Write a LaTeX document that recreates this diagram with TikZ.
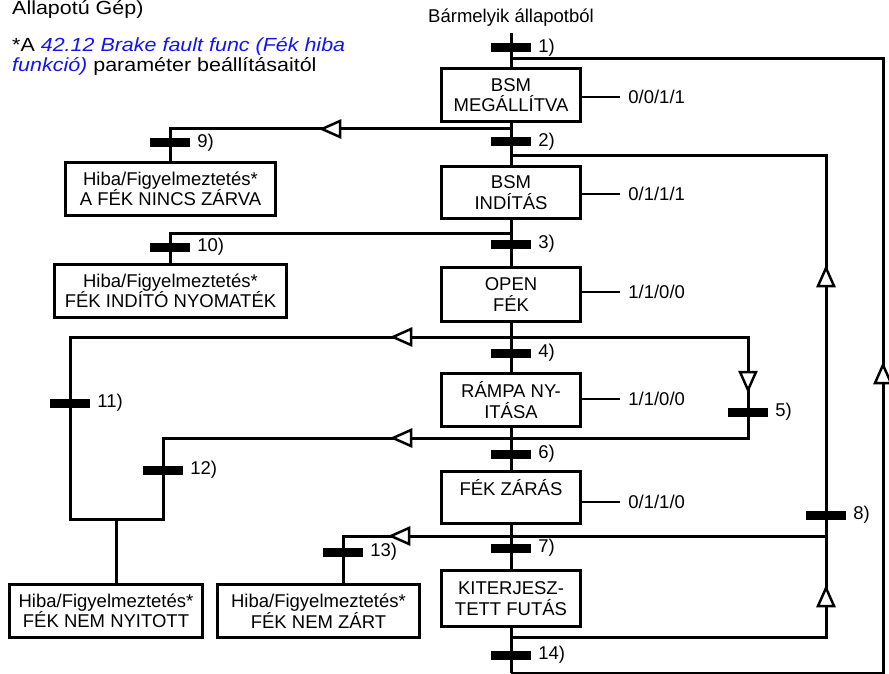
\documentclass[tikz,border=0pt]{standalone}
\usepackage{fontspec}
\setmainfont{Liberation Sans}
\newfontfamily\notefont[FakeStretch=1.13]{Liberation Sans}
\definecolor{linkblue}{RGB}{20,20,240}
\begin{document}
\begin{tikzpicture}[x=1pt,y=-1pt,
  every node/.style={font=\fontsize{18.5}{20.5}\selectfont},
  note/.style={anchor=base west,inner sep=0pt,font=\notefont\fontsize{19}{21}\selectfont},
  conn/.style={line width=3pt,line join=miter},
  lbl/.style={line width=2.5pt},
  box/.style={draw,line width=3.2pt,inner sep=0pt,align=center},
  bar/.style={fill=black,inner sep=0pt,minimum width=40pt,minimum height=9pt,
              label={[label distance=7pt,inner sep=0pt]east:#1}},
  openarr/.pic={\draw[line width=2.5pt,fill=white,line join=miter] (0,0) -- (18,-8) -- (18,8) -- cycle;}]
\useasboundingbox (0,0) rectangle (889,674);

% texts at top
\node[note] (t0) at (12,15) {Állapotú Gép)};
\node[note] (t1) at (12,52) {*A \textcolor{linkblue}{\itshape 42.12 Brake fault func (Fék hiba}};
\node[note] (t2) at (12,72) {\textcolor{linkblue}{\itshape funkció)} paraméter beállításaitól};
\node[anchor=base,inner sep=0pt] (any) at (511,23) {Bármelyik állapotból};

% state boxes
\node[box,minimum width=139pt,minimum height=53pt] (s1) at (511,95) {BSM\\MEGÁLLÍTVA};
\node[box,minimum width=139pt,minimum height=52pt] (s2) at (511,192.5) {BSM\\INDÍTÁS};
\node[box,minimum width=139pt,minimum height=54pt] (s3) at (511,294.5) {OPEN\\FÉK};
\node[box,minimum width=139pt,minimum height=53pt] (s4) at (511,400) {RÁMPA NY-\\ITÁSA};
\node[box,minimum width=139pt,minimum height=52pt] (s5) at (511,497.5) {FÉK ZÁRÁS\\\phantom{X}};
\node[box,minimum width=139pt,minimum height=56pt] (s6) at (511,598.5) {KITERJESZ-\\TETT FUTÁS};

\node[box,minimum width=210pt,minimum height=53pt] (e9) at (170.5,189) {Hiba/Figyelmeztetés*\\A FÉK NINCS ZÁRVA};
\node[box,minimum width=232pt,minimum height=53pt] (e10) at (170.5,291) {Hiba/Figyelmeztetés*\\FÉK INDÍTÓ NYOMATÉK};
\node[box,minimum width=193pt,minimum height=53pt] (e11) at (106,611) {Hiba/Figyelmeztetés*\\FÉK NEM NYITOTT};
\node[box,minimum width=202pt,minimum height=53pt] (e13) at (318.5,611) {Hiba/Figyelmeztetés*\\FÉK NEM ZÁRT};

% junction coordinates
\coordinate (top) at (511,33);
\coordinate (j1) at (511,59);
\coordinate (c1r) at (883,59);
\coordinate (c1b) at (883,673);
\coordinate (j14) at (511,673);
\coordinate (j9) at (511,129);
\coordinate (k9) at (170,129);
\coordinate (j2r) at (511,156);
\coordinate (c2r) at (826,156);
\coordinate (c8b) at (826,637);
\coordinate (j6b) at (511,637);
\coordinate (j10) at (511,233);
\coordinate (k10) at (170,233);
\coordinate (a4l) at (70,337);
\coordinate (a4r) at (748,337);
\coordinate (a5b) at (748,438);
\coordinate (a12) at (163,438);
\coordinate (b11) at (70,519);
\coordinate (b12) at (163,519);
\coordinate (m11) at (116,519);
\coordinate (j8) at (826,536);
\coordinate (k13) at (343,536);

% main column
\draw[conn] (top) -- (s1.north);
\draw[conn] (s1.south) -- (s2.north);
\draw[conn] (s2.south) -- (s3.north);
\draw[conn] (s3.south) -- (s4.north);
\draw[conn] (s4.south) -- (s5.north);
\draw[conn] (s5.south) -- (s6.north);
\draw[conn] (s6.south) -- (j14);

% branches
\draw[conn] (j1) -- (c1r) -- (c1b) -- (j14);
\draw[conn] (j9) -- (k9) -- (k9 |- e9.north);
\draw[conn] (j2r) -- (c2r) -- (c8b) -- (j6b);
\draw[conn] (j10) -- (k10) -- (k10 |- e10.north);
\draw[conn] (a4r) -- (a4l) -- (b11) -- (b12) -- (a12) -- (a5b) -- cycle;
\draw[conn] (m11) -- (m11 |- e11.north);
\draw[conn] (j8) -- (k13) -- (k13 |- e13.north);

% open arrowheads
\pic at (322,129) {openarr};
\pic[rotate=-90] at (826,268) {openarr};
\pic[rotate=-90] at (826,588) {openarr};
\pic[rotate=-90] at (883,365) {openarr};
\pic at (393,337) {openarr};
\pic[rotate=90] at (748,390) {openarr};
\pic at (393,438) {openarr};
\pic at (391,536) {openarr};

% transition bars
\node[bar=1)] (tr1) at (511,48) {};
\node[bar=2)] (tr2) at (511,142) {};
\node[bar=3)] (tr3) at (511,244) {};
\node[bar=4)] (tr4) at (511,353) {};
\node[bar=6)] (tr6) at (511,454) {};
\node[bar=7)] (tr7) at (511,548) {};
\node[bar=14)] (tr14) at (511,655) {};
\node[bar=9)] (tr9) at (170,143) {};
\node[bar=10)] (tr10) at (170,247) {};
\node[bar=11)] (tr11) at (70,403) {};
\node[bar=12)] (tr12) at (163,470) {};
\node[bar=5)] (tr5) at (748,412) {};
\node[bar=13)] (tr13) at (343,552) {};
\node[bar=8)] (tr8) at (826,515) {};

% output labels
\draw[lbl] (s1.east |- 0,97) -- ++(38,0) node[anchor=west,inner sep=0pt,xshift=7pt] (o1) {0/0/1/1};
\draw[lbl] (s2.east |- 0,194) -- ++(38,0) node[anchor=west,inner sep=0pt,xshift=7pt] (o2) {0/1/1/1};
\draw[lbl] (s3.east |- 0,292) -- ++(38,0) node[anchor=west,inner sep=0pt,xshift=7pt] (o3) {1/1/0/0};
\draw[lbl] (s4.east |- 0,399) -- ++(38,0) node[anchor=west,inner sep=0pt,xshift=7pt] (o4) {1/1/0/0};
\draw[lbl] (s5.east |- 0,502) -- ++(38,0) node[anchor=west,inner sep=0pt,xshift=7pt] (o5) {0/1/1/0};
\end{tikzpicture}
\end{document}
